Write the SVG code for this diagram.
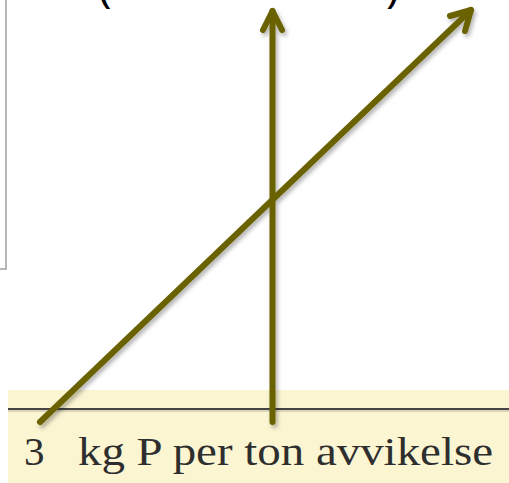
<svg xmlns="http://www.w3.org/2000/svg" width="509" height="483" viewBox="0 0 509 483">
  <style>
    .arrow { fill: none; stroke: #6b6200; stroke-width: 6; stroke-linecap: round; stroke-linejoin: round; }
    .paren { font-family: "Open Sans", "Liberation Sans", sans-serif; font-size: 46px; fill: #000; }
    .label { font-family: "Liberation Serif", serif; font-size: 41px; fill: #2e2e2e; }
  </style>
  <defs>
    <filter id="shadow" x="-10%" y="-10%" width="130%" height="130%">
      <feDropShadow dx="2" dy="3" stdDeviation="2" flood-color="#000" flood-opacity="0.3"/>
    </filter>
  </defs>
  <rect width="509" height="483" fill="#ffffff"/>
  <g id="frame">
    <polyline points="6,0 6,269 0,269" fill="none" stroke="#a0a0a0" stroke-width="1.5"/>
  </g>
  <g id="parens">
    <text class="paren" x="98" y="2">(</text>
    <text class="paren" x="386" y="2">)</text>
  </g>
  <g id="band">
    <rect x="8" y="390" width="501" height="93" fill="#fbf5d2"/>
    <line x1="8" y1="409" x2="509" y2="409" stroke="#444" stroke-width="2"/>
    <line x1="8" y1="411" x2="509" y2="411" stroke="#b8b4a0" stroke-width="1"/>
  </g>
  <g id="label">
    <text class="label" x="24" y="465">3</text>
    <text class="label" x="78" y="465" textLength="415" lengthAdjust="spacingAndGlyphs">kg P per ton avvikelse</text>
  </g>
  <g id="connectors" filter="url(#shadow)">
    <g id="arrow-vertical">
      <path class="arrow" d="M272.5,422 L272.5,11"/>
      <path class="arrow" d="M263,30 L272.5,11 L282,30"/>
    </g>
    <g id="arrow-diagonal">
      <path class="arrow" d="M40,422 L471,10"/>
      <path class="arrow" d="M450,16 L471,10 L465,31"/>
    </g>
  </g>
</svg>
